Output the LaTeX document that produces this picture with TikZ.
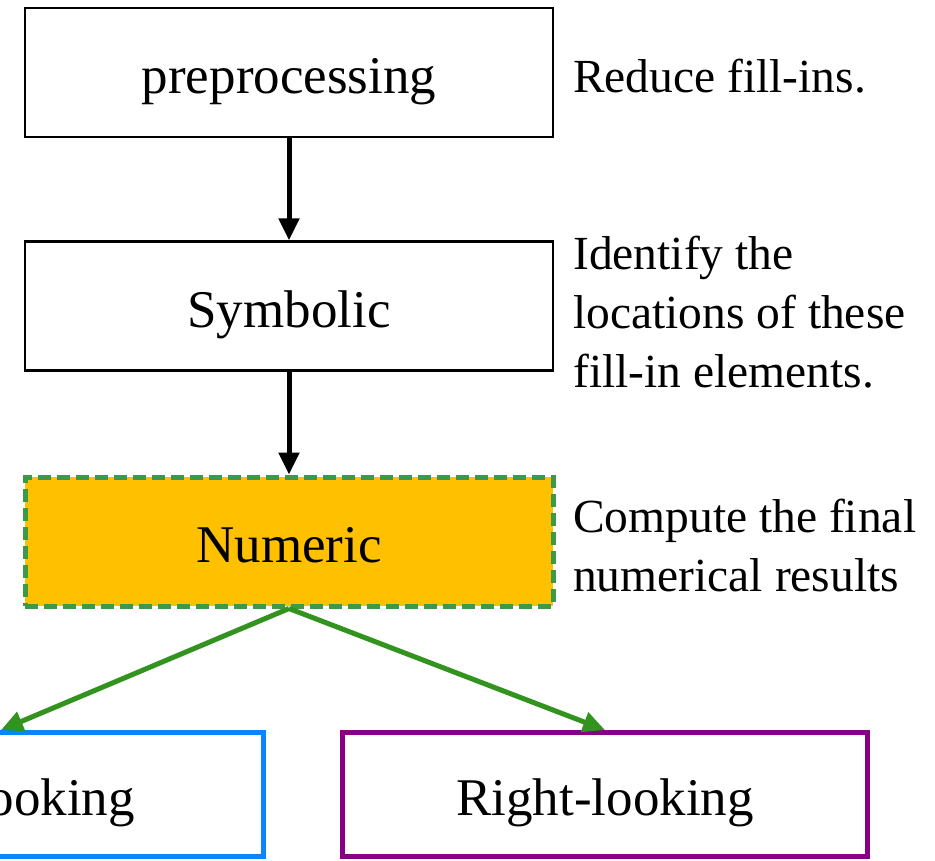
\documentclass[tikz,border=0pt]{standalone}
\usepackage{fontspec}
\setmainfont{Liberation Serif}
\usetikzlibrary{arrows.meta}

\definecolor{numfill}{HTML}{FFC000}
\definecolor{numedge}{HTML}{3A9A46}
\definecolor{flowgreen}{HTML}{33931F}
\definecolor{leftblue}{HTML}{0A84FF}
\definecolor{rightpurple}{HTML}{850085}

\tikzset{
  stage/.style={draw=black, line width=2.5pt, minimum width=528pt, minimum height=129pt,
    inner sep=0pt, text height=52pt, text depth=10pt,
    font=\fontsize{53}{60}\selectfont},
  numstage/.style={stage, draw=numedge, fill=numfill, line width=5pt,
    dash pattern=on 13pt off 6pt},
  variant/.style={stage, line width=5pt, minimum width=525pt, minimum height=124pt},
  note/.style={anchor=north west, align=left, inner sep=0pt,
    font=\fontsize{47.5}{59}\selectfont},
  blackflow/.style={line width=5pt, -{Triangle[width=20pt,length=22pt]}},
  greenflow/.style={draw=flowgreen, line width=5pt, -{Triangle[width=20pt,length=22pt]}}
}

\begin{document}
\begin{tikzpicture}[x=1pt, y=-1pt]
  \useasboundingbox (0,0) rectangle (935,860);
  \clip (0,0) rectangle (935,860);

  % processing stages
  \node[stage]    (pre) at (289,72.5)  {preprocessing};
  \node[stage]    (sym) at (289,306)   {Symbolic};
  \node[numstage] (num) at (289,541.5) {Numeric};

  % factorization variants
  \node[variant, draw=leftblue]    (left)  at (1,794.5)   {Left-looking};
  \node[variant, draw=rightpurple] (right) at (605,794.5) {Right-looking};

  % descriptions
  \node[note] (d1) at (573,59)  {Reduce fill-ins.};
  \node[note] (d2) at (573,236) {Identify the\\locations of these\\fill-in elements.};
  \node[note] (d3) at (573,499) {Compute the final\\numerical results};

  % flow
  \draw[blackflow] (pre.south) -- (sym.north);
  \draw[blackflow] (sym.south) -- (num.north);
  \draw[greenflow] (num.south) -- (left.north);
  \draw[greenflow] (num.south) -- (right.north);
\end{tikzpicture}
\end{document}
